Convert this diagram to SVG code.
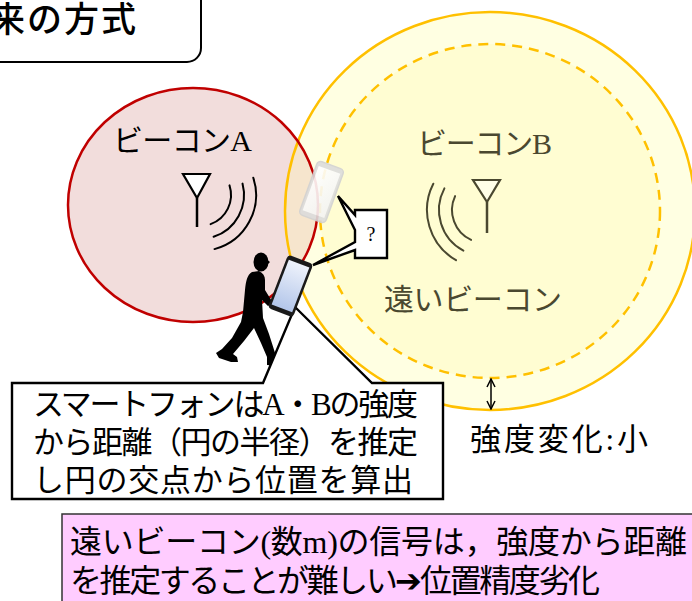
<svg xmlns="http://www.w3.org/2000/svg" width="692" height="601" viewBox="0 0 692 601">
  <style>
    .t { font-family: "Liberation Serif", "Noto Sans CJK JP", sans-serif; fill: #000; }
    .olive { fill: #4a4830; }
    .wave { fill: none; stroke: #000; stroke-width: 2; stroke-linecap: round; }
    .waveB { fill: none; stroke: #4a4830; stroke-width: 2; stroke-linecap: round; }
    .callout { fill: #fff; stroke: #000; stroke-width: 2.4; stroke-linejoin: miter; }
  </style>
  <defs>
    <clipPath id="clipA">
      <ellipse cx="193" cy="205" rx="125" ry="117"/>
    </clipPath>
    <linearGradient id="screen" x1="0" y1="0" x2="0" y2="1">
      <stop offset="0" stop-color="#eef2fb"/>
      <stop offset="1" stop-color="#b3c6ea"/>
    </linearGradient>
    <linearGradient id="ghostScreen" x1="0" y1="0" x2="1" y2="1">
      <stop offset="0" stop-color="#ffffff"/>
      <stop offset="1" stop-color="#f3f3f3"/>
    </linearGradient>
    <marker id="arrowHead" markerWidth="10" markerHeight="10" refX="9" refY="5" orient="auto-start-reverse" markerUnits="userSpaceOnUse">
      <path d="M1 1 L9 5 L1 9" fill="none" stroke="#000" stroke-width="1.5"/>
    </marker>
  </defs>

  <!-- coverage areas -->
  <g id="areaA">
    <ellipse cx="193" cy="205" rx="125" ry="117" fill="#f2dddc"/>
  </g>
  <g id="areaB">
    <ellipse cx="490" cy="211" rx="205" ry="199" fill="#ffffe2"/>
    <ellipse cx="490" cy="211" rx="205" ry="199" fill="#f6e5cd" clip-path="url(#clipA)"/>
    <ellipse cx="490" cy="211" rx="170" ry="167" fill="#fffdd2"/>
    <ellipse cx="490" cy="211" rx="170" ry="167" fill="none" stroke="#ffc000" stroke-width="2.5" stroke-dasharray="10 7"/>
    <ellipse cx="490" cy="211" rx="205" ry="199" fill="none" stroke="#ffc000" stroke-width="2.5"/>
  </g>
  <g id="areaA-outline">
    <ellipse cx="193" cy="205" rx="125" ry="117" fill="none" stroke="#c00000" stroke-width="2.5"/>
  </g>

  <!-- title box -->
  <g id="title">
    <rect x="-20" y="-20" width="221" height="82" rx="14" fill="#fff" stroke="#000" stroke-width="2"/>
    <text class="t" x="-47" y="32" font-size="35" font-weight="500" textLength="183" lengthAdjust="spacing">従来の方式</text>
  </g>

  <!-- beacon A -->
  <g id="beaconA">
    <text class="t" x="113" y="151" font-size="30" textLength="139" lengthAdjust="spacing">ビーコンA</text>
    <path d="M183 174 H210 L197 198 Z" fill="#fff" stroke="#000" stroke-width="2.2" stroke-linejoin="miter"/>
    <line x1="197" y1="198" x2="197" y2="227" stroke="#000" stroke-width="2.5"/>
    <path class="wave" d="M229.5 185.4 A31 31 0 0 1 210.6 224.1"/>
    <path class="wave" d="M242.5 183.6 A44 44 0 0 1 213.6 236.8"/>
    <path class="wave" d="M253.3 177.7 A56 56 0 0 1 214.5 249.1"/>
  </g>

  <!-- beacon B -->
  <g id="beaconB">
    <text class="t olive" x="417" y="154" font-size="30" textLength="135" lengthAdjust="spacing">ビーコンB</text>
    <path d="M473 180 H500 L487 202 Z" fill="#ffffe8" stroke="#4a4830" stroke-width="2.2" stroke-linejoin="miter"/>
    <line x1="487" y1="202" x2="487" y2="233" stroke="#4a4830" stroke-width="2.5"/>
    <path class="waveB" d="M455.1 196.1 A33 33 0 0 0 471.1 239.9"/>
    <path class="waveB" d="M444.4 188.4 A46 46 0 0 0 463.4 250.6"/>
    <path class="waveB" d="M433.3 183.7 A58 58 0 0 0 456 260.2"/>
    <text class="t olive" x="384" y="310" font-size="30" textLength="178" lengthAdjust="spacing">遠いビーコン</text>
  </g>

  <!-- walking person -->
  <g id="person" fill="#000">
    <ellipse cx="261" cy="262" rx="7.5" ry="9.5"/>
    <path d="M266 259 L270 262 L267 265 Z"/>
    <path d="M252 272 C247 275 246 281 245 290 L243 312 L241 322 L232 338 L222 349 L216 353 L219 358 L231 362 L238 362 L237 357 L233 354 L244 341 L254 328 L261 343 L267 357 L267 365 L278 366 L276 356 L269 334 L263 318 L262 300 L268 306 L273 303 L265 290 L265 280 C265 276 263 273 259 271 Z"/>
  </g>

  <!-- callouts -->
  <g id="connectors">
    <path id="explain-callout" class="callout" d="M12 383 H263 L295 307 L372 383 H443 V499 H12 Z"/>
    <path id="question-callout" class="callout" d="M355 210 H387 V258 H355 V250 L313 265 L355 242 V230 L338 196 L355 215 Z"/>
    <line x1="491" y1="379" x2="491" y2="409" stroke="#000" stroke-width="1.5" marker-start="url(#arrowHead)" marker-end="url(#arrowHead)"/>
  </g>

  <!-- smartphones -->
  <g id="ghostPhone" opacity="0.9" transform="rotate(20 321.5 192)">
    <rect x="307.5" y="163.5" width="28" height="57" rx="4" fill="#dcdcdc" stroke="#d2d2d2" stroke-width="1.5"/>
    <rect x="310" y="168.5" width="23" height="47" fill="url(#ghostScreen)"/>
  </g>
  <g id="phone" transform="rotate(21 290.5 286)">
    <rect x="277" y="257.5" width="27" height="57" rx="4" fill="#1a1a1a"/>
    <rect x="279.5" y="262" width="22" height="48" fill="url(#screen)"/>
  </g>

  <text class="t" x="371" y="241" font-size="20" text-anchor="middle">?</text>

  <!-- explanation text -->
  <g id="explain">
    <text class="t" x="33" y="415" font-size="31" textLength="385" lengthAdjust="spacing">スマートフォンはA・Bの強度</text>
    <text class="t" x="33" y="453" font-size="31" textLength="385" lengthAdjust="spacing">から距離（円の半径）を推定</text>
    <text class="t" x="33" y="491" font-size="31" textLength="380" lengthAdjust="spacing">し円の交点から位置を算出</text>
  </g>

  <g id="change">
    <text class="t" x="470" y="450" font-size="31" textLength="178" lengthAdjust="spacing">強度変化:小</text>
  </g>

  <!-- conclusion box -->
  <g id="conclusion">
    <rect x="62" y="514" width="640" height="100" fill="#ffccff" stroke="#333" stroke-width="1.5"/>
    <text class="t" x="70" y="553" font-size="32" textLength="617" lengthAdjust="spacing">遠いビーコン(数m)の信号は，強度から距離</text>
    <text class="t" x="70" y="592" font-size="32" textLength="530" lengthAdjust="spacing">を推定することが難しい➔位置精度劣化</text>
  </g>
</svg>
